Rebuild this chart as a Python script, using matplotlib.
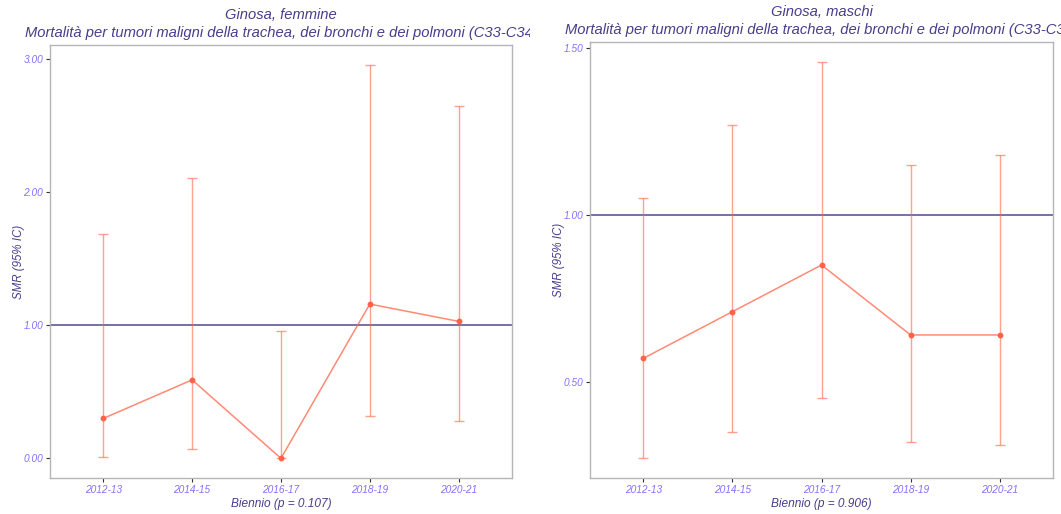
import numpy as np
import matplotlib
matplotlib.use("Agg")
import matplotlib.pyplot as plt
from matplotlib.transforms import Bbox, TransformedBbox

plt.rcParams['font.family'] = ['Liberation Sans', 'DejaVu Sans']

bienni = ["2012-13", "2014-15", "2016-17", "2018-19", "2020-21"]

smr_f = [0.30, 0.59, 0.00, 1.16, 1.03]
low_f = [0.01, 0.07, 0.00, 0.32, 0.28]
upp_f = [1.69, 2.11, 0.96, 2.96, 2.65]

smr_m = [0.57, 0.71, 0.85, 0.64, 0.64]
low_m = [0.27, 0.35, 0.45, 0.32, 0.31]
upp_m = [1.05, 1.27, 1.46, 1.15, 1.18]

titoli = ["Ginosa, femmine", "Ginosa, maschi"]
sottotitolo = "Mortalità per tumori maligni della trachea, dei bronchi e dei polmoni (C33-C34)"
p_values = ["0.107", "0.906"]
yticks_f = [0.0, 1.0, 2.0, 3.0]
yticks_m = [0.5, 1.0, 1.5]

title_col = "#483D8B"
tick_col = "#8470FF"
err_col = "tomato"

fig = plt.figure(figsize=(10.61, 5.14), dpi=100)
ax1 = fig.add_axes([0.0471, 0.070, 0.4354, 0.8424])
ax2 = fig.add_axes([0.5561, 0.070, 0.4364, 0.8483])


def panel(ax, smr, low, upp, yticks, titolo, p, clip_right):
    x = np.arange(len(bienni))
    smr = np.array(smr)
    yerr = [smr - np.array(low), np.array(upp) - smr]
    ax.axhline(1.0, color=title_col, lw=1.3, alpha=0.8, zorder=1)
    ax.errorbar(x, smr, yerr=yerr, fmt='none', ecolor=err_col, elinewidth=1.0,
                capsize=3.3, capthick=1.0, alpha=0.6, zorder=2)
    ax.plot(x, smr, color=err_col, lw=1.1, alpha=0.75, zorder=3)
    ax.plot(x, smr, 'o', color=err_col, ms=3.2, zorder=4)

    ax.set_xlim(-0.6, len(bienni) - 0.4)
    lo = min(min(low), 1.0)
    hi = max(max(upp), 1.0)
    pad = (hi - lo) * 0.05
    ax.set_ylim(lo - pad, hi + pad)
    ax.set_xticks(x)
    ax.set_xticklabels(bienni)
    ax.set_yticks(yticks)
    ax.set_yticklabels(["%.2f" % v for v in yticks])
    ax.tick_params(colors="#333333", length=3, width=0.8, labelsize=7.3,
                   labelcolor=tick_col, pad=2)
    for lab in ax.get_xticklabels() + ax.get_yticklabels():
        lab.set_style("italic")
    for s in ax.spines.values():
        s.set_color("#B5B5B5")
        s.set_linewidth(1.0)

    ax.set_xlabel("Biennio (p = %s)" % p, color=title_col, style="italic",
                  fontsize=8.6, labelpad=2)
    ax.set_ylabel("SMR (95% IC)", color=title_col, style="italic",
                  fontsize=8.3, labelpad=-1)
    t = ax.set_title(titolo + "\n" + sottotitolo, color=title_col,
                     style="italic", fontsize=10.6, pad=6, linespacing=1.3)
    if clip_right is not None:
        t.set_clip_box(TransformedBbox(Bbox([[0, 0], [clip_right, 1]]),
                                       fig.transFigure))
        t.set_clip_on(True)


panel(ax1, smr_f, low_f, upp_f, yticks_f, titoli[0], p_values[0], 0.4995)
panel(ax2, smr_m, low_m, upp_m, yticks_m, titoli[1], p_values[1], None)

fig.savefig("out.png", dpi=100)
